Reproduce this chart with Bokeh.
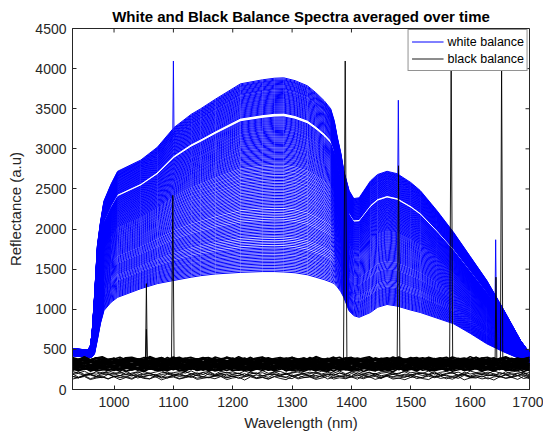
import numpy as np
from bokeh.plotting import figure
from bokeh.models import Range1d, FixedTicker, Legend, LegendItem
from bokeh.embed import file_html
from bokeh.resources import INLINE

# ---------------- data ----------------
title_text = "White and Black Balance Spectra averaged over time"
x_label = "Wavelength (nm)"
y_label = "Reflectance (a.u)"
x_ticks = [1000, 1100, 1200, 1300, 1400, 1500, 1600, 1700]
y_ticks = [0, 500, 1000, 1500, 2000, 2500, 3000, 3500, 4000, 4500]

# sample wavelengths of the white-balance spectra
wl_white = [930, 945, 955, 960, 963, 967, 972, 977, 983, 995,
            1006, 1045, 1073, 1101, 1130, 1146, 1171, 1213, 1250, 1270,
            1286, 1305, 1326, 1340, 1354, 1365, 1371, 1376, 1382, 1387,
            1396, 1404, 1413, 1432, 1444, 1460, 1477, 1500, 1516, 1544,
            1572, 1600, 1628, 1656, 1685, 1700]
# brightest white spectrum (upper envelope)
white_upper = [510, 500, 490, 540, 700, 1150, 1800, 2080, 2350, 2560,
               2720, 2860, 3020, 3265, 3430, 3500, 3620, 3810, 3860, 3880,
               3885, 3850, 3785, 3700, 3600, 3500, 3350, 3150, 2950, 2730,
               2480, 2380, 2390, 2600, 2680, 2720, 2690, 2580, 2480, 2230,
               1960, 1660, 1360, 1000, 610, 460]
# darkest white spectrum (lower envelope)
white_lower = [420, 410, 400, 400, 405, 440, 620, 820, 984, 1087,
               1149, 1257, 1320, 1360, 1400, 1419, 1440, 1460, 1470, 1470,
               1465, 1455, 1430, 1400, 1370, 1340, 1320, 1280, 1220, 1150,
               980, 920, 900, 960, 1025, 1060, 1040, 990, 960, 890,
               820, 700, 570, 470, 380, 340]
# level of every white spectrum at 1286 nm
white_peak_levels = [
    3885, 3872, 3860, 3851, 3840, 3828, 3817, 3805, 3796, 3784, 3772, 3760,
    3751, 3740, 3726, 3714, 3703, 3690, 3679, 3667, 3655, 3642, 3630, 3619,
    3606, 3594, 3581, 3570, 3557, 3545, 3533, 3520, 3508, 3495, 3483, 3470,
    3458, 3446,
    3398, 3386, 3373, 3360, 3348, 3335, 3322, 3310, 3296, 3284, 3270, 3258,
    3245, 3230, 3218, 3205, 3190, 3178, 3165, 3150, 3138, 3124, 3110, 3097,
    3082, 3070, 3055, 3041, 3028, 3012, 2998, 2985, 2970, 2955, 2940, 2927,
    2912, 2898, 2882, 2868, 2852, 2838, 2822, 2807,
    2788, 2770, 2752, 2735, 2715, 2698, 2680, 2660, 2643, 2625, 2605, 2588,
    2568, 2550, 2531, 2512, 2494, 2475, 2455, 2437, 2418, 2400, 2380, 2362,
    2343, 2325, 2306, 2287, 2268, 2245, 2226, 2205, 2185, 2164, 2144, 2122,
    2100, 2082, 2063, 2044, 2025, 2006, 1988, 1968, 1950, 1930, 1912, 1890,
    1868, 1846, 1826, 1805, 1782, 1762, 1745, 1726, 1708, 1690, 1670, 1652,
    1634, 1615, 1596, 1578, 1560, 1541, 1522, 1503, 1484, 1465]
# narrow spikes in the white spectra
white_spike_wl = [1100, 1479, 1643]
white_spike_peak = [4095, 3606, 1867]
white_spike_base = [3250, 2650, 1150]
white_spike_halfwidth = [1.0, 1.0, 1.0]

# black-balance spectra: levels (dense band and sparse lower lines) and noise
black_dense_levels = [386, 381, 376, 371, 366, 361, 356, 351, 346, 341, 336,
                      331, 326, 321, 316, 311, 306, 301, 296, 291, 286, 281,
                      276, 271, 266, 261, 256, 251, 246]
black_dense_shift = [0, 13, 27, 41, 5, 19, 33, 52, 8, 24, 61, 37, 3, 70, 16,
                     45, 29, 58, 11, 66, 22, 49, 35, 74, 7, 55, 18, 63, 31]
black_sparse_levels = [212, 199, 187, 176, 165, 153, 142]
black_sparse_shift = [43, 6, 59, 34, 71, 25, 48]
black_ripple = [12, -8, 18, -16, 6, 22, -12, 0, -20, 10,
                16, -6, -18, 24, -4, 8, -14, 20, -22, 2,
                14, -10, 4, -24, 18, -2, 10, -16, 22, -8,
                -12, 6, 20, -18, 0, 12, -6, 16, -20, 8,
                -14, 24, -4, -10, 18, -22, 4, 14, -12, 6,
                22, -16, -2, 10, -8, 20, -18, 2, 12, -24,
                16, -6, 8, -14, 18, -4, -20, 24, -10, 6,
                14, -16, 0, 22, -12, 4, -8, 16]
# spikes in the black spectra
black_spike_wl = [1054.5, 1054.5, 1099, 1389.5, 1479.3, 1568, 1643.5, 1653]
black_spike_peak = [1320, 750, 2420, 4095, 2789, 4095, 1400, 4095]
black_spike_halfwidth = [1.5, 1.5, 2.2, 2.9, 2.3, 2.6, 1.5, 2.0]
black_spike_base = 330

# ---------------- build line sets ----------------
up = np.array(white_upper, dtype=float)
lo = np.array(white_lower, dtype=float)
ref = wl_white.index(1286)
white_xs, white_ys = [], []
for lev in white_peak_levels:
    t = (lev - lo[ref]) / (up[ref] - lo[ref])
    white_xs.append(list(wl_white))
    white_ys.append(list(lo + t * (up - lo)))

wsx, wsy = [], []
for w, pk, b, hw in zip(white_spike_wl, white_spike_peak, white_spike_base, white_spike_halfwidth):
    wsx.append([w - hw, w, w + hw])
    wsy.append([b, pk, b])

wl_black = [930 + 10 * i for i in range(len(black_ripple))]
rip = np.array(black_ripple, dtype=float)


def black_set(levels, shifts):
    xs, ys = [], []
    for lev, sh in zip(levels, shifts):
        xs.append(wl_black)
        ys.append(list(lev + np.roll(rip, sh)))
    return xs, ys


bdx, bdy = black_set(black_dense_levels, black_dense_shift)
bpx, bpy = black_set(black_sparse_levels, black_sparse_shift)

bsx, bsy = [], []
for w, pk, hw in zip(black_spike_wl, black_spike_peak, black_spike_halfwidth):
    bsx.append([w - hw, w, w + hw])
    bsy.append([black_spike_base, pk, black_spike_base])

# ---------------- figure ----------------
FONT = "Liberation Sans"
AX = "#262626"
x_lo, x_hi, y_lo, y_hi = 930, 1700, 0, 4500
W, H = 543, 436
BL, BR, BT, BB = 72, 14, 28, 47
p = figure(width=W, height=H, output_backend="svg", toolbar_location=None,
           x_range=Range1d(x_lo, x_hi), y_range=Range1d(y_lo, y_hi),
           min_border_left=BL, min_border_right=BR, min_border_top=BT,
           min_border_bottom=BB, background_fill_color="white",
           border_fill_color="white")
p.title.text = title_text
p.title.text_font = FONT
p.title.text_font_size = "15px"
p.title.text_font_style = "bold"
p.title.text_color = "black"
p.title.align = "center"
p.title.standoff = 7
p.grid.visible = False
p.outline_line_color = AX
p.outline_line_width = 1

for ax in (p.xaxis[0], p.yaxis[0]):
    ax.major_tick_in = 4
    ax.major_tick_out = 0
    ax.minor_tick_in = 0
    ax.minor_tick_out = 0
    ax.axis_line_color = AX
    ax.major_tick_line_color = AX
    ax.major_label_text_color = AX
    ax.major_label_text_font = FONT
    ax.major_label_text_font_size = "14px"
    ax.axis_label_text_font = FONT
    ax.axis_label_text_font_size = "15px"
    ax.axis_label_text_font_style = "normal"
    ax.axis_label_text_color = AX
p.xaxis[0].ticker = FixedTicker(ticks=x_ticks)
p.yaxis[0].ticker = FixedTicker(ticks=y_ticks)
p.xaxis[0].axis_label = x_label
p.yaxis[0].axis_label = y_label
p.xaxis[0].major_label_standoff = 7
p.xaxis[0].axis_label_standoff = 4
p.yaxis[0].major_label_standoff = 6
p.yaxis[0].axis_label_standoff = 8

white_r = p.multi_line(white_xs, white_ys, line_color="#0000ff", line_width=1.0)
p.multi_line(wsx, wsy, line_color="#0000ff", line_width=0.9)
p.multi_line(bdx, bdy, line_color="black", line_width=1.6)
black_r = p.multi_line(bpx, bpy, line_color="black", line_width=0.9)
p.multi_line(bsx, bsy, line_color="black", line_width=0.9)

# inward tick marks on the top and right edges of the box (4 px long)
tick_px = 4
dy = tick_px * (y_hi - y_lo) / (H - BT - BB)
dx = tick_px * (x_hi - x_lo) / (W - BL - BR)
p.segment(x0=x_ticks, y0=[y_hi] * len(x_ticks), x1=x_ticks, y1=[y_hi - dy] * len(x_ticks),
          line_color=AX, line_width=1)
p.segment(x0=[x_hi] * len(y_ticks), y0=y_ticks, x1=[x_hi - dx] * len(y_ticks), y1=y_ticks,
          line_color=AX, line_width=1)

legend = Legend(items=[LegendItem(label="white balance", renderers=[white_r]),
                       LegendItem(label="black balance", renderers=[black_r])],
                location="top_right", margin=1, padding=3, spacing=0,
                glyph_width=32, glyph_height=17, label_height=17, label_standoff=4,
                label_text_font=FONT, label_text_font_size="12.5px", label_text_color="black",
                border_line_color=AX, border_line_width=1,
                background_fill_color="white", background_fill_alpha=1)
p.add_layout(legend)

open("out.html", "w").write(file_html(p, INLINE))
